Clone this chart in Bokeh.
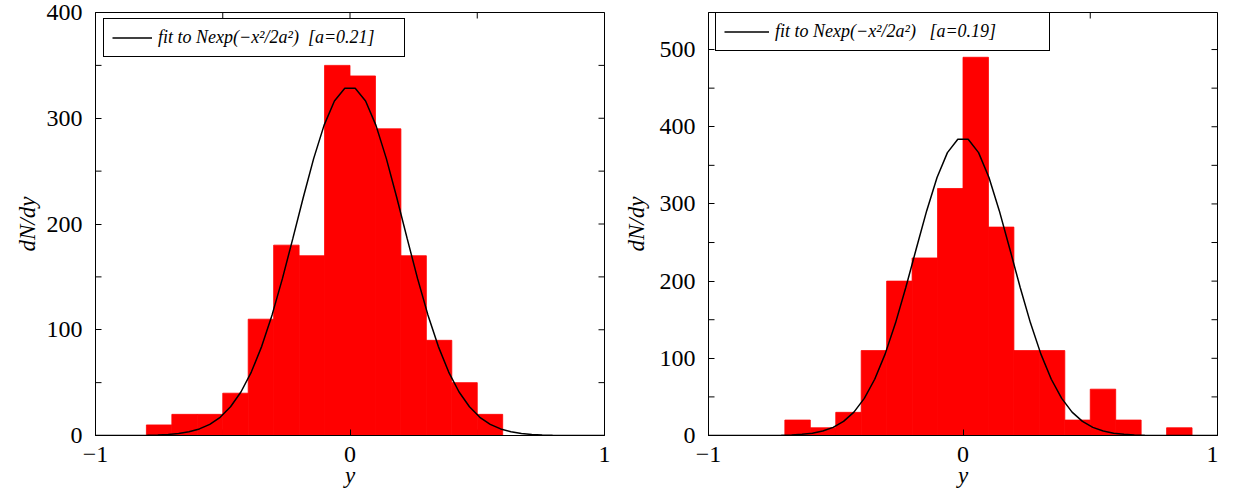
import numpy as np
from bokeh.plotting import figure
from bokeh.layouts import row
from bokeh.models import FixedTicker, LinearAxis, Legend, LegendItem, Range1d
from bokeh.embed import file_html
from bokeh.resources import INLINE

# ---- data ----
left_bin_edges = [-0.8, -0.7, -0.6, -0.5, -0.4, -0.3, -0.2, -0.1, 0.0, 0.1, 0.2, 0.3, 0.4, 0.5, 0.6]
left_counts = [10, 20, 20, 40, 110, 180, 170, 350, 340, 290, 170, 90, 50, 20]
left_fit_N = 330
left_fit_a = 0.21

right_bin_edges = [-0.7, -0.6, -0.5, -0.4, -0.3, -0.2, -0.1, 0.0, 0.1, 0.2, 0.3, 0.4, 0.5, 0.6, 0.7, 0.8, 0.9]
right_counts = [20, 10, 30, 110, 200, 230, 320, 490, 270, 110, 110, 20, 60, 20, 0, 10]
right_fit_N = 386
right_fit_a = 0.19

x_labeled_ticks = [-1, 0, 1]
x_tick_labels = {-1: "\u22121", 0: "0", 1: "1"}
x_all_ticks = [-1, -0.5, 0, 0.5, 1]
x_minor_ticks = [-0.5, 0.5]
left_y_labeled = [0, 100, 200, 300, 400]
left_y_all = [0, 50, 100, 150, 200, 250, 300, 350, 400]
right_y_labeled = [0, 100, 200, 300, 400, 500]
right_y_all = [0, 50, 100, 150, 200, 250, 300, 350, 400, 450, 500]

left_label = "fit to Nexp(\u2212x\u00b2/2a\u00b2)  [a=0.21]"
right_label = "fit to Nexp(\u2212x\u00b2/2a\u00b2)   [a=0.19]"

FONT = "Liberation Serif"
TICK = 12  # marker size -> 6px visible inside the frame


def make_panel(edges, counts, N, a, ymax, y_lab, y_all, label, width, bl, br,
               ylab_standoff, leg_loc, glyph_w, label_w):
    p = figure(width=width, height=496, output_backend="svg", toolbar_location=None,
               x_range=Range1d(-1, 1), y_range=Range1d(0, ymax),
               x_axis_location=None, y_axis_location=None,
               min_border_left=bl, min_border_right=br, min_border_top=12, min_border_bottom=61)
    p.grid.visible = False
    p.outline_line_color = "black"
    p.outline_line_alpha = 1.0
    p.outline_line_width = 1
    p.background_fill_color = "white"
    p.border_fill_color = "white"

    # unlabeled bottom ticks (drawn under the bars)
    p.scatter(x=x_minor_ticks, y=[0] * len(x_minor_ticks), marker="dash", size=TICK,
              angle=np.pi / 2, line_color="black", line_width=1)

    p.quad(left=edges[:-1], right=edges[1:], bottom=0, top=counts,
           fill_color="#ff0000", line_color="#ff0000", line_width=0.8)

    xs = np.linspace(-1, 1, 50)
    ys = N * np.exp(-xs ** 2 / (2 * a ** 2))
    r = p.line(xs, ys, line_color="black", line_width=1.5)

    # mirrored ticks on the top and right frame edges, and unlabeled left ticks
    p.scatter(x=x_all_ticks, y=[ymax] * len(x_all_ticks), marker="dash", size=TICK,
              angle=np.pi / 2, line_color="black", line_width=1)
    p.scatter(x=[1] * len(y_all), y=y_all, marker="dash", size=TICK,
              line_color="black", line_width=1)
    y_minor = [t for t in y_all if t not in y_lab]
    p.scatter(x=[-1] * len(y_minor), y=y_minor, marker="dash", size=TICK,
              line_color="black", line_width=1)

    def style(ax):
        ax.major_tick_in = 6
        ax.major_tick_out = 0
        ax.minor_tick_in = 0
        ax.minor_tick_out = 0
        ax.axis_line_color = "black"
        ax.major_tick_line_color = "black"
        ax.major_label_text_font = FONT
        ax.major_label_text_font_size = "24px"
        ax.major_label_text_color = "black"
        ax.axis_label_text_font = FONT
        ax.axis_label_text_font_size = "23px"
        ax.axis_label_text_font_style = "italic"
        ax.axis_label_text_color = "black"

    bottom = LinearAxis(ticker=FixedTicker(ticks=x_labeled_ticks), axis_label="y")
    style(bottom)
    bottom.major_label_overrides = x_tick_labels
    bottom.major_label_standoff = 11
    bottom.axis_label_standoff = -2
    p.add_layout(bottom, "below")

    left = LinearAxis(ticker=FixedTicker(ticks=y_lab), axis_label="dN/dy")
    style(left)
    left.major_label_standoff = 13
    left.axis_label_standoff = ylab_standoff
    p.add_layout(left, "left")

    legend = Legend(items=[LegendItem(label=label, renderers=[r])], location=leg_loc)
    legend.label_text_font = FONT
    legend.label_text_font_size = "18px"
    legend.label_text_font_style = "italic"
    legend.label_text_color = "black"
    legend.border_line_color = "black"
    legend.border_line_width = 1
    legend.border_line_alpha = 1
    legend.background_fill_color = "white"
    legend.background_fill_alpha = 1
    legend.padding = 8
    legend.spacing = 0
    legend.margin = 0
    legend.label_height = 19
    legend.glyph_height = 19
    legend.glyph_width = glyph_w
    legend.label_standoff = 6
    legend.label_width = label_w
    p.add_layout(legend)
    return p


p1 = make_panel(left_bin_edges, left_counts, left_fit_N, left_fit_a, 400, left_y_labeled, left_y_all,
                left_label, 620, 95, 16, 4, (8, 378), 40, 238)
p2 = make_panel(right_bin_edges, right_counts, right_fit_N, right_fit_a, 548, right_y_labeled, right_y_all,
                right_label, 598, 88, 1, 8, (7, 384), 45, 266)

layout = row(p1, p2)
open("out.html", "w").write(file_html(layout, INLINE))
